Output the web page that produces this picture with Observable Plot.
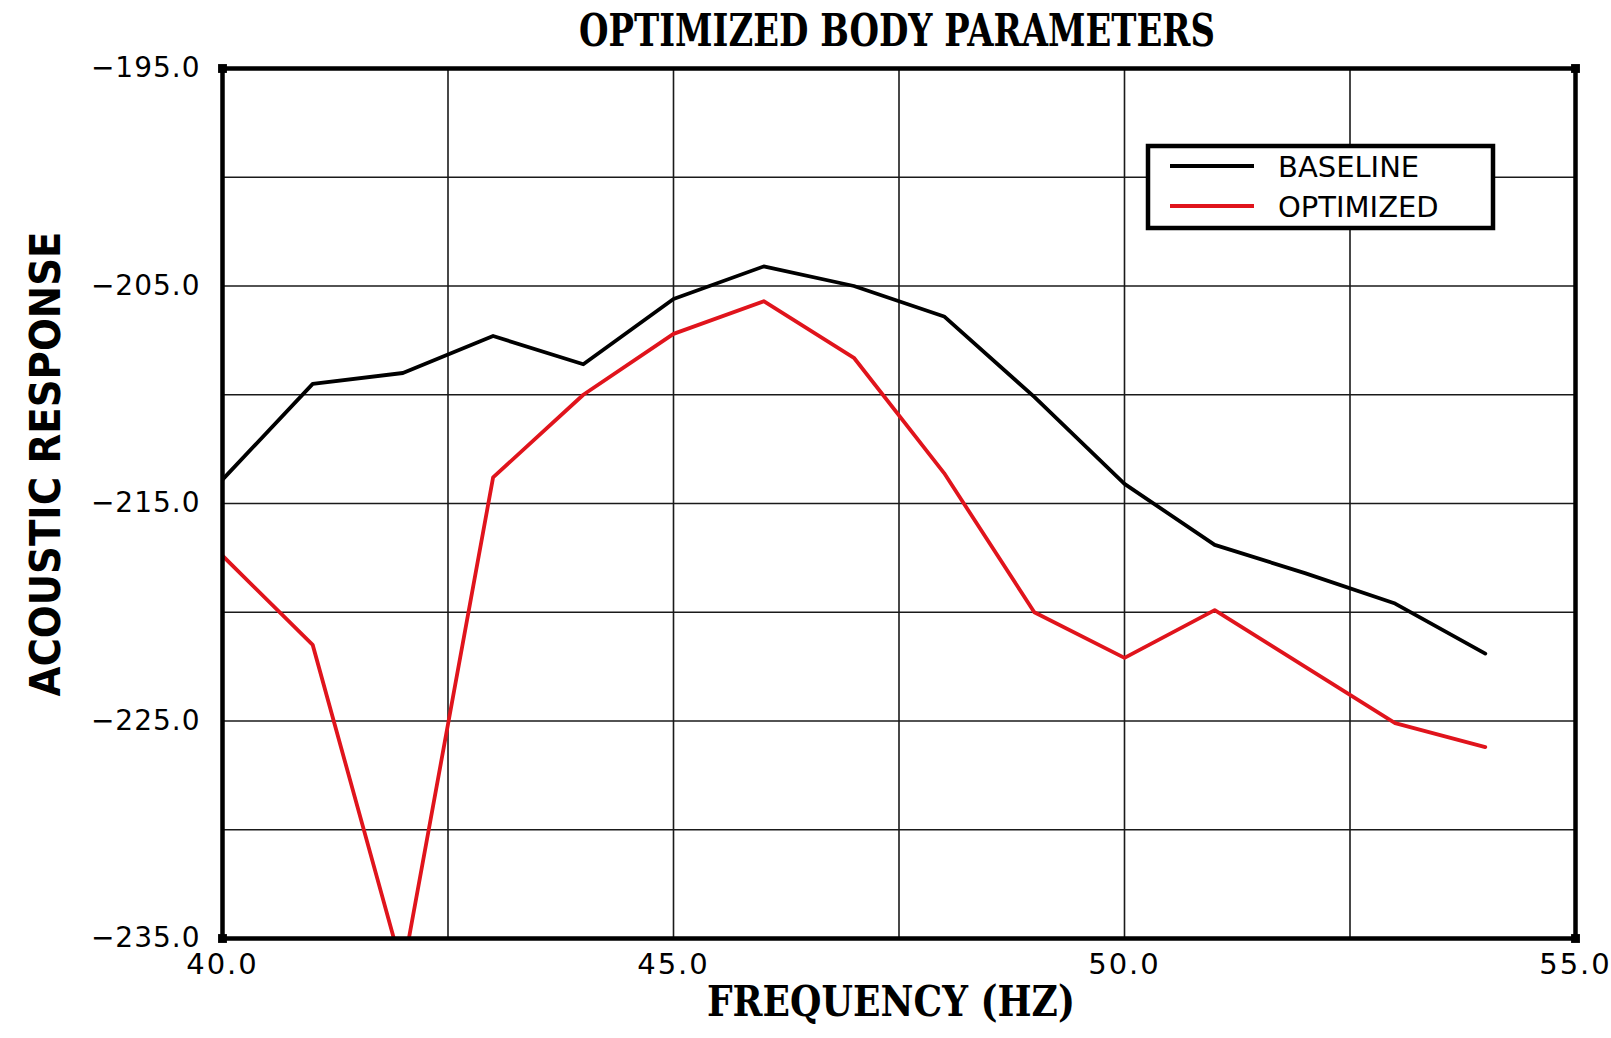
<!DOCTYPE html>
<html><head><meta charset="utf-8">
<script src="https://cdn.jsdelivr.net/npm/d3@7"></script>
<script src="https://cdn.jsdelivr.net/npm/@observablehq/plot@0.6"></script>
<style>
html,body{margin:0;padding:0;background:#fff;}
#chart{width:1611px;height:1038px;}
</style></head><body><div id="chart"></div>
<script>
const chartTitle = "OPTIMIZED BODY PARAMETERS";
const xLabel = "FREQUENCY (HZ)";
const yLabel = "ACOUSTIC RESPONSE";
const frequency = [40, 41, 42, 43, 44, 45, 46, 47, 48, 49, 50, 51, 52, 53, 54];
const baseline  = [-213.9, -209.5, -209.0, -207.3, -208.6, -205.6, -204.1, -205.0, -206.4, -210.1, -214.1, -216.9, -218.2, -219.6, -221.9];
const optimized = [-217.4, -221.5, -236.5, -213.8, -210.0, -207.2, -205.7, -208.3, -213.6, -220.0, -222.1, -219.9, -222.5, -225.1, -226.2];
const seriesNames = ["BASELINE", "OPTIMIZED"];
const seriesColors = ["#000000", "#e0141c"];
const xDomain = [40, 55];
const yDomain = [-235, -195];
const xTickLabels = [40, 45, 50, 55];
const yTickLabels = [-195, -205, -215, -225, -235];
const xGrid = [42.5, 45, 47.5, 50, 52.5];
const yGrid = [-200, -205, -210, -215, -220, -225, -230];

const rows = [];
frequency.forEach((f, i) => {
  rows.push({f, v: baseline[i], s: seriesNames[0]});
  rows.push({f, v: optimized[i], s: seriesNames[1]});
});
const corners = xDomain.flatMap(x => yDomain.map(y => ({x, y})));
const fmt = d => (d < 0 ? "\u2212" : "") + Math.abs(d).toFixed(1);

const plot = Plot.plot({
  width: 1611, height: 1038,
  marginLeft: 222, marginRight: 36, marginTop: 68, marginBottom: 100,
  style: {fontFamily: "'DejaVu Sans', sans-serif", fontSize: "28px", background: "#fff", color: "#000", overflow: "visible"},
  x: {domain: xDomain},
  y: {domain: yDomain},
  color: {domain: seriesNames, range: seriesColors},
  marks: [
    Plot.gridX({ticks: xGrid, stroke: "#1a1a1a", strokeOpacity: 1, strokeWidth: 1.6}),
    Plot.gridY({ticks: yGrid, stroke: "#1a1a1a", strokeOpacity: 1, strokeWidth: 1.6}),
    Plot.axisX({ticks: xTickLabels, tickSize: 0, tickPadding: 15, tickFormat: fmt, fontSize: 29, label: null}),
    Plot.axisY({ticks: yTickLabels, tickSize: 0, tickPadding: 22, tickFormat: fmt, fontSize: 28, label: null}),
    Plot.line(rows, {x: "f", y: "v", z: "s", stroke: "s", strokeWidth: 3.8, clip: true}),
    Plot.frame({stroke: "#000", strokeWidth: 4.5}),
    Plot.dot(corners, {x: "x", y: "y", symbol: "square", fill: "#000", r: 5})
  ]
});
document.getElementById("chart").appendChild(plot);

const svg = d3.select(plot.tagName.toLowerCase() === "svg" ? plot : plot.querySelector("svg"));

svg.selectAll('g[aria-label="x-axis tick label"] text').attr("letter-spacing", 2);
svg.selectAll('g[aria-label="y-axis tick label"] text').attr("letter-spacing", 1);

// Title
svg.append("text")
  .attr("x", 897).attr("y", 46)
  .attr("text-anchor", "middle")
  .attr("font-family", "'DejaVu Serif', serif")
  .attr("font-weight", "bold")
  .attr("font-size", 44)
  .attr("textLength", 636)
  .attr("lengthAdjust", "spacingAndGlyphs")
  .attr("fill", "#000")
  .text(chartTitle);

// X label
svg.append("text")
  .attr("x", 891).attr("y", 1016)
  .attr("text-anchor", "middle")
  .attr("font-family", "'DejaVu Serif', serif")
  .attr("font-weight", "bold")
  .attr("font-size", 42)
  .attr("textLength", 368)
  .attr("lengthAdjust", "spacingAndGlyphs")
  .attr("fill", "#000")
  .text(xLabel);

// Y label
svg.append("text")
  .attr("transform", "translate(60,464) rotate(-90)")
  .attr("text-anchor", "middle")
  .attr("font-family", "'DejaVu Sans', sans-serif")
  .attr("font-weight", "bold")
  .attr("font-size", 43)
  .attr("textLength", 465)
  .attr("lengthAdjust", "spacingAndGlyphs")
  .attr("fill", "#000")
  .text(yLabel);

// Legend
const lg = svg.append("g");
lg.append("rect").attr("x", 1148).attr("y", 146).attr("width", 345).attr("height", 82)
  .attr("fill", "#fff").attr("stroke", "#000").attr("stroke-width", 4.5);
seriesNames.forEach((name, i) => {
  const cy = 166 + i * 40;
  lg.append("line").attr("x1", 1170).attr("x2", 1254).attr("y1", cy).attr("y2", cy)
    .attr("stroke", seriesColors[i]).attr("stroke-width", 3.8);
  lg.append("text").attr("x", 1278).attr("y", cy + 11)
    .attr("text-anchor", "start")
    .attr("font-family", "'DejaVu Sans', sans-serif").attr("font-size", 29)
    .attr("fill", "#000").text(name);
});
</script>
</body></html>
